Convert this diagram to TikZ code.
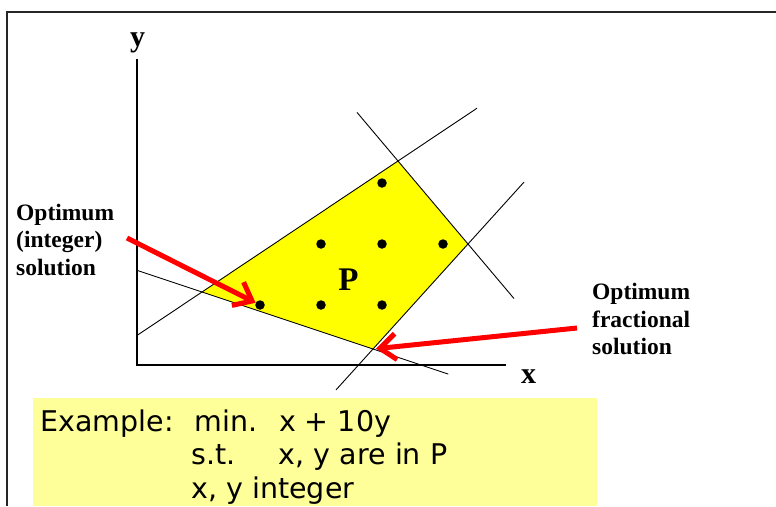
\documentclass[tikz,border=0pt]{standalone}
\usepackage{fontspec}
\setmainfont{Liberation Serif}
\newfontfamily\boxfont{DejaVu Sans}
\usetikzlibrary{arrows.meta, calc}
\definecolor{lpyellow}{RGB}{255,255,0}
\definecolor{notepad}{RGB}{255,255,153}
\definecolor{hotred}{RGB}{255,0,0}
\newcommand{\tabcol}[2]{\makebox[#1][l]{#2}}

\begin{document}
\begin{tikzpicture}[x=1pt, y=-1pt,
    axis/.style={line width=1.2pt},
    bound/.style={line width=0.9pt},
    pt/.style={circle, fill=black, inner sep=0pt, minimum size=9.5pt},
    lbl/.style={font=\bfseries\fontsize{23.5}{27.5}\selectfont, align=left,
                anchor=north west, inner sep=0pt},
    var/.style={font=\bfseries\fontsize{30}{36}\selectfont, anchor=base, inner sep=0pt},
    pointer/.style={draw=hotred, line width=5pt, -{Straight Barb[length=16pt, width=26pt]}}]
  \useasboundingbox (0,0) rectangle (776,506);
  % slide frame
  \draw[line width=2pt, black!85] (776,12) -- (6.5,12) -- (6.5,506);

  % corners of P
  \coordinate (v1) at (202,292);
  \coordinate (v2) at (398,161);
  \coordinate (v3) at (468,244);
  \coordinate (v4) at (373,349);
  \fill[lpyellow] (v1) -- (v2) -- (v3) -- (v4) -- cycle;

  % axes
  \draw[axis] (137,59) -- (137,365) -- (506,365);
  \node[var] (ylab) at (137.5,46.7) {y};
  \node[var] (xlab) at (528.5,383) {x};

  % constraints
  \draw[bound] ($(v1)!-0.38!(v4)$) -- ($(v1)!1.44!(v4)$);
  \draw[bound] ($(v1)!-0.332!(v2)$) -- ($(v1)!1.403!(v2)$);
  \draw[bound] ($(v2)!-0.586!(v3)$) -- ($(v2)!1.657!(v3)$);
  \draw[bound] ($(v4)!-0.389!(v3)$) -- ($(v4)!1.589!(v3)$);
  \node[var, font=\bfseries\fontsize{33}{38}\selectfont] (plab) at (348.5,290) {P};

  % integer points
  \foreach \c/\r in {3/0, 2/1, 3/1, 4/1, 1/2, 2/2, 3/2}
    \node[pt] (d\c\r) at ({199+61*\c},{183+61*\r}) {};

  % labels and pointers
  \node[lbl] (intopt) at (16,203.5) {Optimum\\(integer)\\solution};
  \node[lbl] (fracopt) at (592,283) {Optimum\\fractional\\solution};
  \coordinate (t1) at (127,238);
  \coordinate (t2) at (577,328);
  \draw[pointer] (t1) -- (d12);
  \draw[pointer, shorten >=3pt] (t2) -- (v4);

  % example
  \fill[notepad] (33,398) rectangle (597,506);
  \node[font=\boxfont\fontsize{28.5}{33.5}\selectfont, align=left, anchor=north west,
        inner sep=0pt] (ex) at (40.2,409.5)
    {\tabcol{154pt}{Example:}\tabcol{84.6pt}{min.}x + 10y\\
     \hspace*{151pt}\tabcol{87.6pt}{s.t.}x, y are in P\\
     \hspace*{151pt}x, y integer};
\end{tikzpicture}
\end{document}
